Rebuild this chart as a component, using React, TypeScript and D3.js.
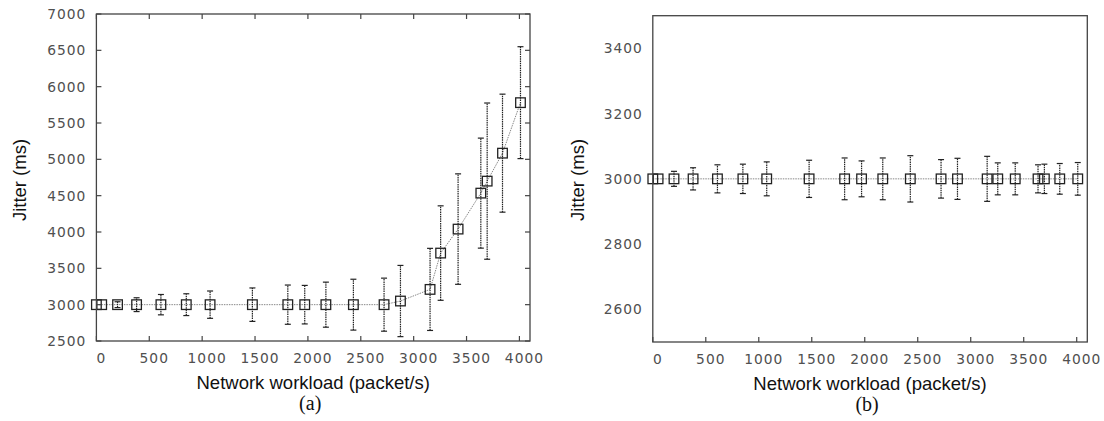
import React from "react";
import * as d3 from "d3";

const workload = [0, 50, 200, 380, 610, 850, 1075, 1475, 1810, 1970, 2170, 2430, 2720, 2875, 3155, 3255, 3420, 3635, 3695, 3840, 4010];
const jitterA = [3000, 3000, 3000, 3000, 3000, 3000, 3000, 3000, 3000, 3000, 3000, 3000, 3000, 3050, 3210, 3710, 4040, 4535, 4700, 5085, 5780];
const errA = [0, 0, 40, 95, 140, 150, 188, 230, 270, 265, 310, 350, 365, 490, 565, 650, 760, 757, 1075, 812, 770];
const jitterB = [3000, 3000, 3000, 3000, 3000, 3000, 3000, 3000, 3000, 3000, 3000, 3000, 3000, 3000, 3000, 3000, 3000, 3000, 3000, 3000, 3000];
const errB = [0, 0, 23, 34, 43, 45, 52, 57, 64, 55, 64, 71, 59, 63, 69, 49, 49, 43, 45, 47, 50];

const xTicks = [0, 500, 1000, 1500, 2000, 2500, 3000, 3500, 4000];
const yTicksA = [2500, 3000, 3500, 4000, 4500, 5000, 5500, 6000, 6500, 7000];
const yTicksB = [2600, 2800, 3000, 3200, 3400];

const xTitle = "Network workload (packet/s)";
const yTitle = "Jitter (ms)";

type PanelProps = {
  left: number; right: number; top: number; bottom: number;
  yDomain: [number, number]; yTicks: number[]; ys: number[]; errs: number[];
  yTickMarks: boolean; topTicks: boolean; caption: string; yTitleX: number;
};

const tickFont = "'DejaVu Sans', Verdana, sans-serif";
const titleFont = "'Liberation Sans', Arial, sans-serif";

function Panel(p: PanelProps) {
  const x = d3.scaleLinear().domain([0, 4100]).range([p.left, p.right]);
  const y = d3.scaleLinear().domain(p.yDomain).range([p.bottom, p.top]);
  const pts = workload.map((w, i) => ({ w, v: p.ys[i], e: p.errs[i] }));
  const line = d3.line<{ w: number; v: number }>().x(d => x(d.w)).y(d => y(d.v));
  const tl = 5;
  const cx = (p.left + p.right) / 2;
  return (
    <g>
      <path d={line(pts) || ""} fill="none" stroke="#888" strokeWidth={1} strokeDasharray="1.5,1" />
      {pts.map((d, i) => d.e > 0 ? (
        <g key={"e" + i} stroke="#222" strokeWidth={1.2}>
          <line x1={x(d.w)} x2={x(d.w)} y1={y(d.v - d.e)} y2={y(d.v + d.e)} strokeDasharray="1.5,0.8" />
          <line x1={x(d.w) - 3} x2={x(d.w) + 3} y1={y(d.v + d.e)} y2={y(d.v + d.e)} />
          <line x1={x(d.w) - 3} x2={x(d.w) + 3} y1={y(d.v - d.e)} y2={y(d.v - d.e)} />
        </g>
      ) : null)}
      {pts.map((d, i) => (
        <rect key={"m" + i} x={x(d.w) - 4.8} y={y(d.v) - 4.8} width={9.6} height={9.6}
          fill="none" stroke="#222" strokeWidth={1.3} />
      ))}
      <rect x={p.left} y={p.top} width={p.right - p.left} height={p.bottom - p.top}
        fill="none" stroke="#444" strokeWidth={1.3} />
      {xTicks.map(t => (
        <g key={"xt" + t}>
          <line x1={x(t)} x2={x(t)} y1={p.bottom} y2={p.bottom - tl} stroke="#444" strokeWidth={1.2} />
          {p.topTicks && <line x1={x(t)} x2={x(t)} y1={p.top} y2={p.top + tl} stroke="#444" strokeWidth={1.2} />}
          <text x={x(t) + 5} y={p.bottom + 22} textAnchor="middle" fontFamily={tickFont}
            fontSize={13.8} letterSpacing={1} fill="#505050">{t}</text>
        </g>
      ))}
      {p.yTicks.map(t => (
        <g key={"yt" + t}>
          {p.yTickMarks && <line x1={p.left} x2={p.left + tl} y1={y(t)} y2={y(t)} stroke="#444" strokeWidth={1.2} />}
          {p.yTickMarks && <line x1={p.right} x2={p.right - tl} y1={y(t)} y2={y(t)} stroke="#444" strokeWidth={1.2} />}
          <text x={p.left - 10} y={y(t)} dy="0.36em" textAnchor="end" fontFamily={tickFont}
            fontSize={13.8} letterSpacing={1} fill="#505050">{t}</text>
        </g>
      ))}
      <text x={cx} y={p.bottom + 48} textAnchor="middle" fontFamily={titleFont} fontSize={18.5} fill="#111">{xTitle}</text>
      <text transform={`translate(${p.yTitleX},180) rotate(-90)`} textAnchor="middle" fontFamily={titleFont}
        fontSize={18.5} fill="#111">{yTitle}</text>
      <text x={cx - 3} y={p.bottom + 69} textAnchor="middle" fontFamily="'Liberation Serif', 'Times New Roman', serif"
        fontSize={20} fill="#111">{p.caption}</text>
    </g>
  );
}

export default function App() {
  return (
    <svg width={1104} height={421} style={{ position: "absolute", left: 0, top: 0, background: "#fff" }}>
      <rect x={0} y={0} width={1104} height={421} fill="#fff" />
      <Panel left={96.4} right={530} top={14} bottom={341} yDomain={[2500, 7000]} yTicks={yTicksA}
        ys={jitterA} errs={errA} yTickMarks={true} topTicks={true} caption="(a)" yTitleX={26} />
      <Panel left={652.8} right={1087.3} top={15.7} bottom={342} yDomain={[2500, 3500]} yTicks={yTicksB}
        ys={jitterB} errs={errB} yTickMarks={false} topTicks={false} caption="(b)" yTitleX={584} />
    </svg>
  );
}
